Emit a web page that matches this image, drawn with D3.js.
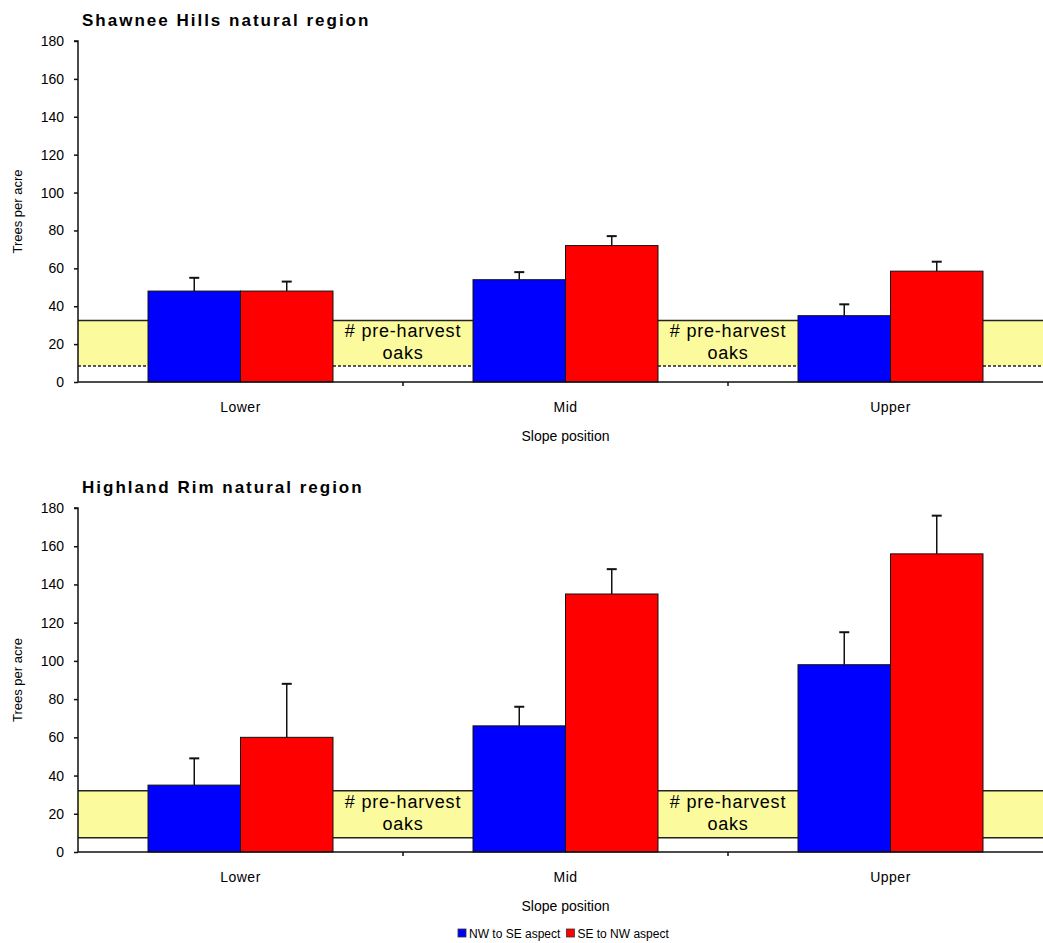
<!DOCTYPE html>
<html><head><meta charset="utf-8">
<script src="https://cdn.jsdelivr.net/npm/d3@7"></script>
<style>
body{margin:0;background:#fff;}
text{font-family:"Liberation Sans",Arial,sans-serif;fill:#000;}
</style></head>
<body><svg id="c" width="1043" height="943"></svg>
<script>
const categories = ["Lower", "Mid", "Upper"];
const seriesNames = ["NW to SE aspect", "SE to NW aspect"];
const seriesColors = ["#0000ff", "#ff0000"];
const yTicks = [0, 20, 40, 60, 80, 100, 120, 140, 160, 180];

const shawneeTitle = "Shawnee Hills natural region";
const shawneeNWtoSE = [48, 54, 35];
const shawneeSEtoNW = [48, 72, 58.5];
const shawneeErrNWtoSE = [7, 4, 6];
const shawneeErrSEtoNW = [5, 5, 5];
const shawneeBand = [8.5, 32.5];

const highlandTitle = "Highland Rim natural region";
const highlandNWtoSE = [35, 66, 98];
const highlandSEtoNW = [60, 135, 156];
const highlandErrNWtoSE = [14, 10, 17];
const highlandErrSEtoNW = [28, 13, 20];
const highlandBand = [7.5, 32];

const bandLabel = ["# pre-harvest", "oaks"];

const svg = d3.select("#c");

function panel(cfg) {
  const g = svg.append("g");
  const y = d3.scaleLinear().domain([0, 180]).range([cfg.y0, cfg.y1]);
  const x = d3.scaleBand().domain(categories).range([78, 1053]).padding(0);
  const x1 = d3.scaleBand().domain(seriesNames).range([0, x.bandwidth()]).paddingInner(0).paddingOuter(0.757);

  // band
  g.append("rect").attr("x", 78).attr("width", 975)
    .attr("y", y(cfg.band[1])).attr("height", y(cfg.band[0]) - y(cfg.band[1]))
    .attr("fill", "#fbfb9d");
  g.append("line").attr("x1", 78).attr("x2", 1053).attr("y1", y(cfg.band[1])).attr("y2", y(cfg.band[1]))
    .attr("stroke", "#222").attr("stroke-width", 1.5);
  g.append("line").attr("x1", 78).attr("x2", 1053).attr("y1", y(cfg.band[0])).attr("y2", y(cfg.band[0]))
    .attr("stroke", "#222").attr("stroke-width", 1.5)
    .attr("stroke-dasharray", cfg.dashed ? "3,2" : null);

  // band labels between categories
  const mids = categories.slice(0, -1).map(c => x(c) + x.bandwidth());
  const cy = (y(cfg.band[0]) + y(cfg.band[1])) / 2;
  mids.forEach(m => {
    bandLabel.forEach((t, i) => {
      g.append("text").attr("x", m).attr("y", cy - 6 + i * 22)
        .attr("text-anchor", "middle").attr("font-size", 18).attr("letter-spacing", 0.8).text(t);
    });
  });

  // bars
  const series = [cfg.a, cfg.b];
  const errs = [cfg.ea, cfg.eb];
  categories.forEach((c, ci) => {
    seriesNames.forEach((s, si) => {
      const v = series[si][ci];
      const bx = x(c) + x1(s);
      g.append("rect").attr("x", bx).attr("width", x1.bandwidth())
        .attr("y", y(v)).attr("height", y(0) - y(v))
        .attr("fill", seriesColors[si]).attr("stroke", "#111").attr("stroke-width", 1);
      const ex = bx + x1.bandwidth() / 2;
      const top = y(v + errs[si][ci]);
      g.append("line").attr("x1", ex).attr("x2", ex).attr("y1", y(v)).attr("y2", top)
        .attr("stroke", "#111").attr("stroke-width", 1.5);
      g.append("line").attr("x1", ex - 5).attr("x2", ex + 5).attr("y1", top).attr("y2", top)
        .attr("stroke", "#111").attr("stroke-width", 2);
    });
  });

  // y axis
  const ya = g.append("g").attr("transform", "translate(78,0)")
    .call(d3.axisLeft(y).tickValues(yTicks).tickSize(4).tickPadding(10));
  ya.select(".domain").attr("stroke", "#111").attr("stroke-width", 1.5).attr("d", `M-4,${y(180)}H0V${y(0)}`);
  ya.selectAll(".tick line").attr("stroke", "#111").attr("stroke-width", 1.5);
  ya.selectAll(".tick text").attr("font-size", 14).attr("font-family", "Liberation Sans, Arial, sans-serif");

  // x axis
  g.append("line").attr("x1", 78).attr("x2", 1053).attr("y1", y(0)).attr("y2", y(0))
    .attr("stroke", "#111").attr("stroke-width", 1.5);
  categories.forEach(c => {
    const tx = x(c) + x.bandwidth();
    g.append("line").attr("x1", tx).attr("x2", tx).attr("y1", y(0)).attr("y2", y(0) + 4)
      .attr("stroke", "#111").attr("stroke-width", 1.5);
    g.append("text").attr("x", x(c) + x.bandwidth() / 2).attr("y", y(0) + 30)
      .attr("text-anchor", "middle").attr("font-size", 14).attr("letter-spacing", 0.5).text(c);
  });
  g.append("text").attr("x", x(categories[1]) + x.bandwidth() / 2).attr("y", y(0) + 59)
    .attr("text-anchor", "middle").attr("font-size", 14).text("Slope position");

  // y label
  g.append("text").attr("transform", `translate(22,${(y(0) + y(180)) / 2}) rotate(-90)`)
    .attr("text-anchor", "middle").attr("font-size", 13).text("Trees per acre");

  // title
  g.append("text").attr("x", 82).attr("y", y(180) - 15).attr("font-size", 17)
    .attr("font-weight", "bold").attr("letter-spacing", 2).text(cfg.title);
}

panel({title: shawneeTitle, y0: 382, y1: 41, a: shawneeNWtoSE, b: shawneeSEtoNW,
  ea: shawneeErrNWtoSE, eb: shawneeErrSEtoNW, band: shawneeBand, dashed: true});
panel({title: highlandTitle, y0: 852, y1: 508, a: highlandNWtoSE, b: highlandSEtoNW,
  ea: highlandErrNWtoSE, eb: highlandErrSEtoNW, band: highlandBand, dashed: false});

// legend
const leg = svg.append("g");
let lx = 458;
seriesNames.forEach((s, i) => {
  leg.append("rect").attr("x", lx).attr("y", 929).attr("width", 8).attr("height", 8)
    .attr("fill", seriesColors[i]).attr("stroke", "#333").attr("stroke-width", 0.8);
  const t = leg.append("text").attr("x", lx + 11).attr("y", 938).attr("font-size", 12).text(s);
  lx += 11 + t.node().getComputedTextLength() + 6;
});
</script></body></html>
